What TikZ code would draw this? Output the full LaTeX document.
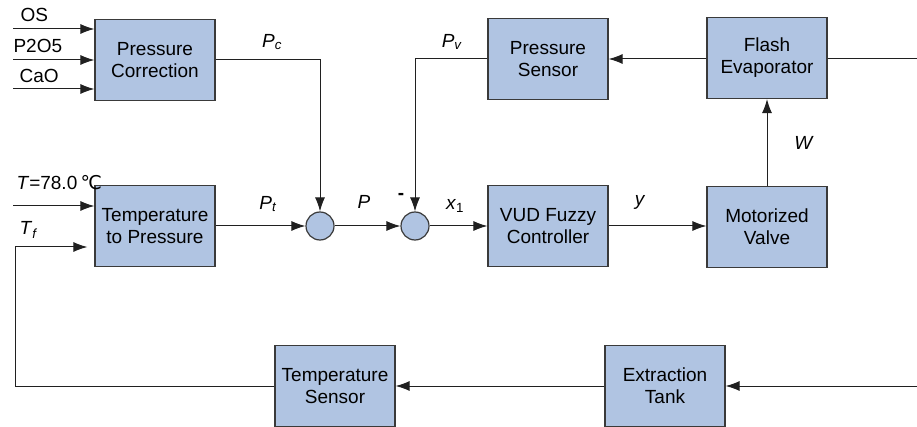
\documentclass[tikz,border=0pt]{standalone}
\usepackage{fontspec}
\setmainfont{Liberation Sans}
\newfontfamily\dejavusym{DejaVu Sans}
\usetikzlibrary{arrows.meta,positioning}
\definecolor{LoopFill}{HTML}{B0C4E2}
\definecolor{LoopEdge}{HTML}{3A3A3A}
\definecolor{LoopWire}{HTML}{202020}

\begin{document}
\begin{tikzpicture}[x=1pt,y=-1pt, every node/.style={font=\fontsize{19}{22}\selectfont},
  blk/.style={draw=LoopEdge,fill=LoopFill,line width=1.2pt,minimum width=120pt,minimum height=81pt,align=center,inner sep=0pt},
  sumpt/.style={circle,draw=LoopEdge,fill=LoopFill,line width=1.2pt,minimum size=28pt,inner sep=0pt},
  wire/.style={draw=LoopWire,line width=1pt,-{Latex[length=14pt,width=10pt]}},
  plain/.style={draw=LoopWire,line width=1pt}]
\clip (0,0) rectangle (917,427);
\node[blk] (pc) at (155,60) {Pressure\\Correction};
\node[blk] (tp) at (155,226) {Temperature\\to Pressure};
\node[sumpt] (s1) at (320,226) {};
\node[sumpt] (s2) at (415,226) {};
\node[blk] (vud) at (548,226) {VUD Fuzzy\\Controller};
\node[blk] (mv) at (767,227) {Motorized\\Valve};
\node[blk] (ps) at (548,59) {Pressure\\Sensor};
\node[blk] (fe) at (767,58) {Flash\\Evaporator};
\node[blk] (ts) at (335,386) {Temperature\\Sensor};
\node[blk] (et) at (665,386) {Extraction\\Tank};
\coordinate (inOS) at (13,29);
\coordinate (inP) at (13,60);
\coordinate (inCa) at (13,89);
\coordinate (inT) at (13,206);
\coordinate (fbk) at (15,247);
\coordinate (outFE) at (917,59);
\coordinate (inET) at (917,386);
\node[anchor=west] (lOS) at (17,15) {OS};
\node[anchor=west] (lP) at (10,46) {P2O5};
\node[anchor=west] (lCa) at (16,76) {CaO};
\node[anchor=west] (lT) at (13,183) {\textit{T}=78.0\,{\dejavusym ℃}};
\node[anchor=west] (lTf) at (16,230) {\textit{T}\textsubscript{\textit{f}}};
\node (lPc) at (272,42) {\textit{P}\textsubscript{\textit{c}}};
\node (lPv) at (452,42) {\textit{P}\textsubscript{\textit{v}}};
\node (lPt) at (268,204) {\textit{P}\textsubscript{\textit{t}}};
\node (lPs) at (364,202) {\textit{P}};
\node (lneg) at (401,196) {\bfseries -};
\node (lx) at (455,206) {\textit{x}\textsubscript{1}};
\node (ly) at (640,202) {\textit{y}};
\node (lW) at (804,143) {\textit{W}};
\draw[wire] (inOS) -- (inOS -| pc.west);
\draw[wire] (inP) -- (inP -| pc.west);
\draw[wire] (inCa) -- (inCa -| pc.west);
\draw[wire] (inT) -- (inT -| tp.west);
\draw[wire,shorten >=7pt] (ts.west) -| (fbk) -- (fbk -| tp.west);
\draw[wire] (pc.east) -| (s1.north);
\draw[wire] (tp.east) -- (s1.west);
\draw[wire] (s1.east) -- (s2.west);
\draw[wire] (ps.west) -| (s2.north);
\draw[wire] (s2.east) -- (vud.west);
\draw[wire] (vud.east) -- (mv.west |- vud.east);
\draw[wire] (mv.north) -- (fe.south);
\draw[wire] (fe.west |- ps.east) -- (ps.east);
\draw[plain] (fe.east |- outFE) -- (outFE);
\draw[wire] (inET) -- (et.east);
\draw[wire] (et.west) -- (ts.east);
\end{tikzpicture}
\end{document}
